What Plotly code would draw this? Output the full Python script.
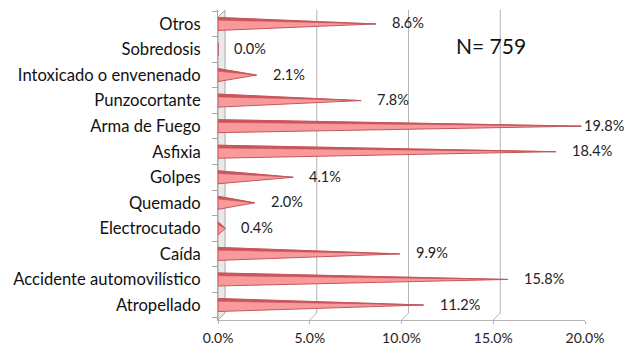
import plotly.graph_objects as go

# Causes of death, listed bottom to top as they appear on the chart
categories = [
    "Atropellado",
    "Accidente automovilístico",
    "Caída",
    "Electrocutado",
    "Quemado",
    "Golpes",
    "Asfixia",
    "Arma de Fuego",
    "Punzocortante",
    "Intoxicado o envenenado",
    "Sobredosis",
    "Otros",
]
percentages = [11.2, 15.8, 9.9, 0.4, 2.0, 4.1, 18.4, 19.8, 7.8, 2.1, 0.0, 8.6]
x_ticks = [0, 5, 10, 15, 20]
x_tick_labels = ["0.0%", "5.0%", "10.0%", "15.0%", "20.0%"]
sample_note = "N= 759"

FONT = "Lato"
W, H = 628, 347
M_L, M_R, M_T, M_B = 218, 43, 10, 27
X_MAX = 20
PX_PER_UNIT = (W - M_L - M_R) / X_MAX
HALF = 0.255      # cone half-height at its base, in category units
BAND = 0.11       # thickness of the shaded upper edge
DX, DY = 7, 7     # pseudo-3D depth offset of the back wall, px
LABEL_GAP = 14    # px between cone tip and its value label
LABEL_W = 44      # approximate width of a value label, px

# Build cone outlines (one polygon per category, separated by None)
body_x, body_y, top_x, top_y = [], [], [], []
for i, v in enumerate(percentages):
    body_x += [0, v, 0, 0, None]
    body_y += [i + HALF, i, i - HALF, i + HALF, None]
    top_x += [0, v, 0, 0, None]
    top_y += [i + HALF, i, i + HALF - BAND, i + HALF, None]

fig = go.Figure()
fig.add_trace(go.Scatter(
    x=body_x, y=body_y, mode="lines", fill="toself",
    fillcolor="#f99a9a", line=dict(color="#c4575c", width=1),
    hoverinfo="skip", showlegend=False,
))
fig.add_trace(go.Scatter(
    x=top_x, y=top_y, mode="lines", fill="toself",
    fillcolor="#cc555b", line=dict(color="#c4575c", width=0.5),
    hoverinfo="skip", showlegend=False,
))

# Value labels next to each cone tip, kept inside the figure on the right
for i, v in enumerate(percentages):
    tip_px = M_L + v * PX_PER_UNIT
    left_px = min(tip_px + LABEL_GAP, W - 2 - LABEL_W)
    fig.add_annotation(
        x=v, y=i, text=f"{v:.1f}%", showarrow=False,
        xanchor="left", yanchor="middle", xshift=left_px - tip_px, yshift=1,
        font=dict(family=FONT, size=14.5, color="#222222"),
    )

fig.add_annotation(
    x=0.744, y=0.885, xref="paper", yref="paper", text=sample_note,
    showarrow=False, xanchor="center", yanchor="middle",
    font=dict(family=FONT, size=21, color="#111111"),
)

shapes = []
# Left side wall seen edge-on
shapes.append(dict(
    type="path", xref="x", yref="paper", xsizemode="pixel", ysizemode="pixel",
    xanchor=0, yanchor=0,
    path=f"M 0 0 L 0 {310 - DY} L {DX} 310 L {DX} {DY} Z",
    fillcolor="#e9e9e9", line=dict(color="#a8a8a8", width=1), layer="below",
))
for t in x_ticks[1:]:
    # back-wall gridline
    shapes.append(dict(
        type="line", xref="x", yref="paper", xsizemode="pixel", ysizemode="pixel",
        xanchor=t, yanchor=0, x0=DX, x1=DX, y0=DY, y1=310,
        line=dict(color="#b4b4b4", width=1), layer="below",
    ))
    # floor edge joining front tick to back gridline
    shapes.append(dict(
        type="line", xref="x", yref="paper", xsizemode="pixel", ysizemode="pixel",
        xanchor=t, yanchor=0, x0=0, x1=DX, y0=0, y1=DY,
        line=dict(color="#b4b4b4", width=1), layer="below",
    ))

fig.update_layout(
    width=W, height=H,
    margin=dict(l=M_L, r=M_R, t=M_T, b=M_B),
    paper_bgcolor="white", plot_bgcolor="white",
    shapes=shapes,
    xaxis=dict(
        range=[0, X_MAX], tickvals=x_ticks, ticktext=x_tick_labels,
        showgrid=False, zeroline=False, showline=True, linecolor="#b4b4b4",
        ticks="outside", ticklen=3, tickcolor="#b4b4b4", ticklabelstandoff=2,
        tickfont=dict(family=FONT, size=14, color="#222222"),
        automargin=False, fixedrange=True,
    ),
    yaxis=dict(
        range=[-0.587, 11.546], tickvals=list(range(len(categories))),
        ticktext=categories, showgrid=False, zeroline=False,
        showline=True, linecolor="#a8a8a8", ticks="", ticklabelstandoff=13,
        tickfont=dict(family=FONT, size=16.6, color="#111111"),
        minor=dict(tickvals=[k - 0.5 for k in range(len(categories) + 1)],
                   ticks="outside", ticklen=5, tickcolor="#a8a8a8"),
        automargin=False, fixedrange=True,
    ),
)

fig.write_html("out.html")
